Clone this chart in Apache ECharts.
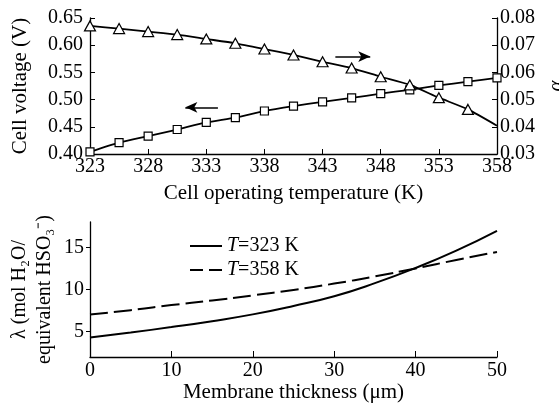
<!DOCTYPE html>
<html>
<head>
<meta charset="utf-8">
<script src="https://cdn.jsdelivr.net/npm/echarts@6/dist/echarts.min.js"></script>
<style>
    html, body { margin: 0; padding: 0; background: #fff; }
    #chart { width: 559px; height: 405px; }
</style>
</head>
<body>
<div id="chart"></div>
<script>
    // top panel: cell temperature (K)
    var temps = [323, 325.5, 328, 330.5, 333, 335.5, 338, 340.5, 343, 345.5, 348, 350.5, 353, 355.5, 358];
    var voltage = [0.404, 0.421, 0.433, 0.445, 0.458, 0.467, 0.479, 0.488, 0.496, 0.503, 0.511, 0.518, 0.526, 0.533, 0.540];
    var alpha = [0.0771, 0.0761, 0.0750, 0.0739, 0.0723, 0.0707, 0.0686, 0.0664, 0.0639, 0.0616, 0.0584, 0.0554, 0.0507, 0.0464, 0.0404];
    var tempTicks = [323, 328, 333, 338, 343, 348, 353, 358];

    // bottom panel: membrane thickness (um)
    var thickness = [0, 5, 10, 15, 20, 25, 30, 35, 40, 45, 50];
    var lambda323 = [4.3, 4.9, 5.55, 6.25, 7.05, 8.05, 9.2, 10.75, 12.55, 14.6, 16.95];
    var lambda358 = [7.05, 7.55, 8.15, 8.7, 9.3, 9.95, 10.7, 11.55, 12.5, 13.5, 14.45];
    var lambdaTicks = [5, 10, 15];

    var FONT = 'Liberation Serif';

    function pairs(xs, ys) {
        var arr = [];
        for (var i = 0; i < xs.length; i++) {
            arr.push([xs[i], ys[i]]);
        }
        return arr;
    }

    function initChart(id) {
        var myChart = echarts.init(document.getElementById(id));
        var axisLine = { lineStyle: { color: '#000', width: 1.3 } };
        var labelStyle = { color: '#000', fontFamily: FONT, fontSize: 20 };
        var nameStyle = { color: '#000', fontFamily: FONT, fontSize: 21 };

        var alphaData = pairs(temps, alpha);
        alphaData[alphaData.length - 1] = { value: alphaData[alphaData.length - 1], symbol: 'none' };

        var option = {
            animation: false,
            grid: [
                { left: 90, right: 62, top: 18, height: 136, outerBoundsMode: 'none' },
                { left: 90, right: 62, top: 222, height: 135, outerBoundsMode: 'none' }
            ],
            legend: {
                left: 185,
                top: 229,
                orient: 'vertical',
                itemWidth: 32,
                itemHeight: 2,
                itemGap: 0,
                data: [
                    { name: 'T=323 K', icon: 'path://M0,0h32v2h-32z' },
                    { name: 'T=358 K', icon: 'path://M0,0h13v2h-13zM19,0h13v2h-13z' }
                ],
                formatter: function (name) {
                    return '{i|T}' + name.substring(1);
                },
                textStyle: {
                    color: '#000', fontFamily: FONT, fontSize: 20, lineHeight: 24,
                    rich: { i: { fontStyle: 'italic', fontFamily: FONT, fontSize: 20, color: '#000' } }
                }
            },
            xAxis: [
                {
                    type: 'value', gridIndex: 0, min: 323, max: 358,
                    name: 'Cell operating temperature (K)', nameLocation: 'middle', nameGap: 29,
                    nameTextStyle: nameStyle,
                    axisLine: axisLine,
                    axisTick: { inside: true, length: 5, customValues: tempTicks, lineStyle: { color: '#000' } },
                    axisLabel: Object.assign({ margin: 3, customValues: tempTicks }, labelStyle),
                    splitLine: { show: false }
                },
                {
                    type: 'value', gridIndex: 1, min: 0, max: 50, interval: 10,
                    name: 'Membrane thickness (μm)', nameLocation: 'middle', nameGap: 20,
                    nameTextStyle: nameStyle,
                    axisLine: axisLine,
                    axisTick: { inside: true, length: 6, lineStyle: { color: '#000' } },
                    axisLabel: Object.assign({ margin: 4 }, labelStyle),
                    splitLine: { show: false }
                }
            ],
            yAxis: [
                {
                    type: 'value', gridIndex: 0, min: 0.4, max: 0.65, interval: 0.05,
                    name: 'Cell voltage (V)', nameLocation: 'middle', nameGap: 59, nameRotate: 90,
                    nameTextStyle: nameStyle,
                    axisLine: Object.assign({ show: true }, axisLine),
                    axisTick: { show: true, inside: true, length: 5, lineStyle: { color: '#000' } },
                    axisLabel: Object.assign({
                        margin: 7,
                        formatter: function (v) { return v.toFixed(2); }
                    }, labelStyle),
                    splitLine: { show: false }
                },
                {
                    type: 'value', gridIndex: 0, position: 'right', min: 0.03, max: 0.08, interval: 0.01,
                    name: 'α', nameLocation: 'middle', nameGap: 46, nameRotate: 90,
                    nameTextStyle: Object.assign({}, nameStyle, { fontStyle: 'italic' }),
                    axisLine: Object.assign({ show: true }, axisLine),
                    axisTick: { show: true, inside: true, length: 5, lineStyle: { color: '#000' } },
                    axisLabel: Object.assign({
                        margin: 3,
                        formatter: function (v) { return v.toFixed(2); }
                    }, labelStyle),
                    splitLine: { show: false }
                },
                {
                    type: 'value', gridIndex: 1, min: 2, max: 18,
                    name: 'λ (mol H₂O/\nequivalent HSO₃⁻)', nameLocation: 'middle', nameGap: 33, nameRotate: 90,
                    nameMoveOverlap: false,
                    nameTextStyle: Object.assign({}, nameStyle, { fontSize: 20, lineHeight: 25 }),
                    axisLine: Object.assign({ show: true }, axisLine),
                    axisTick: { show: true, length: 4, customValues: lambdaTicks, lineStyle: { color: '#000' } },
                    axisLabel: Object.assign({ margin: 6, customValues: lambdaTicks }, labelStyle),
                    splitLine: { show: false }
                }
            ],
            series: []
        };

        option.series.push({
            name: 'Cell voltage',
            type: 'line',
            xAxisIndex: 0,
            yAxisIndex: 0,
            symbol: 'rect',
            symbolSize: 8,
            smooth: 0.2,
            lineStyle: { color: '#000', width: 1.8 },
            itemStyle: { color: '#fff', borderColor: '#000', borderWidth: 1.2 },
            data: pairs(temps, voltage),
            markLine: {
                silent: true,
                symbol: ['none', 'arrow'],
                symbolSize: [8, 12],
                label: { show: false },
                lineStyle: { color: '#000', type: 'solid', width: 1.5 },
                data: [[{ coord: [334.0, 0.4858] }, { coord: [331.2, 0.4858] }]]
            }
        });
        option.series.push({
            name: 'alpha',
            type: 'line',
            xAxisIndex: 0,
            yAxisIndex: 1,
            symbol: 'triangle',
            symbolSize: [11, 10],
            smooth: 0.2,
            lineStyle: { color: '#000', width: 1.8 },
            itemStyle: { color: '#fff', borderColor: '#000', borderWidth: 1.2 },
            data: alphaData,
            markLine: {
                silent: true,
                symbol: ['none', 'arrow'],
                symbolSize: [8, 12],
                label: { show: false },
                lineStyle: { color: '#000', type: 'solid', width: 1.5 },
                data: [[{ coord: [344.1, 0.0658] }, { coord: [347.1, 0.0658] }]]
            }
        });
        option.series.push({
            name: 'T=323 K',
            type: 'line',
            xAxisIndex: 1,
            yAxisIndex: 2,
            symbol: 'none',
            smooth: true,
            color: '#000',
            lineStyle: { color: '#000', width: 2 },
            data: pairs(thickness, lambda323)
        });
        option.series.push({
            name: 'T=358 K',
            type: 'line',
            xAxisIndex: 1,
            yAxisIndex: 2,
            symbol: 'none',
            smooth: true,
            color: '#000',
            lineStyle: { color: '#000', width: 2, type: [18, 6] },
            data: pairs(thickness, lambda358)
        });
        myChart.setOption(option);
    }

    initChart('chart');
</script>
</body>
</html>
